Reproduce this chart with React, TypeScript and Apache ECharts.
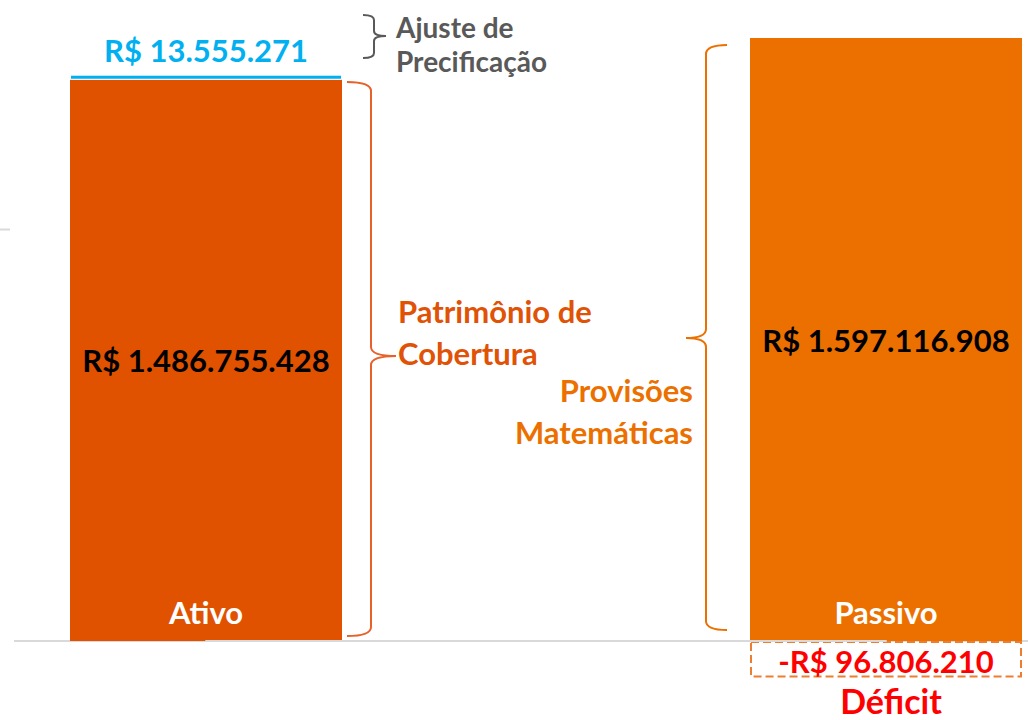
import React, { useEffect, useRef } from "react";
import * as echarts from "echarts";

const categories = ["Ativo", "Passivo"];
const baseValues = [1486755428, 1597116908];
const ajusteValues: (number | null)[] = [13555271, null];
const deficitValues: (number | null)[] = [null, -96806210];
const barColors = ["#E05200", "#EC7000"];

const FONT = "Lato";

const fmt = (v: number) =>
  (v < 0 ? "-" : "") +
  "R$ " +
  Math.abs(v)
    .toString()
    .replace(/\B(?=(\d{3})+(?!\d))/g, ".");

let registered = false;
function registerBrace() {
  if (registered) return;
  registered = true;
  const Brace = (echarts.graphic as any).extendShape({
    type: "brace",
    shape: { xe: 0, xs: 0, xt: 0, y1: 0, ym: 0, y2: 0, r: 6 },
    buildPath(ctx: any, s: any) {
      ctx.moveTo(s.xe, s.y1);
      ctx.quadraticCurveTo(s.xs, s.y1, s.xs, s.y1 + s.r);
      ctx.lineTo(s.xs, s.ym - s.r);
      ctx.quadraticCurveTo(s.xs, s.ym, s.xt, s.ym);
      ctx.moveTo(s.xt, s.ym);
      ctx.quadraticCurveTo(s.xs, s.ym, s.xs, s.ym + s.r);
      ctx.lineTo(s.xs, s.y2 - s.r);
      ctx.quadraticCurveTo(s.xs, s.y2, s.xe, s.y2);
    },
  });
  echarts.graphic.registerShape("brace", Brace);
}

export default function App() {
  const ref = useRef<HTMLDivElement>(null);

  useEffect(() => {
    if (!ref.current) return;
    registerBrace();
    const chart = echarts.init(ref.current, undefined, { renderer: "svg" });

    const labelBase = {
      fontFamily: FONT,
      fontWeight: "bold" as const,
      fontSize: 31,
    };

    chart.setOption({
      animation: false,
      grid: { left: 206, right: 142, top: 37, bottom: 41.25 },
      xAxis: {
        type: "category",
        data: categories,
        boundaryGap: false,
        z: 10,
        axisLine: { show: true, onZero: true, lineStyle: { color: "#D9D9D9", width: 2 } },
        axisTick: { show: false },
        axisLabel: { show: false },
      },
      yAxis: {
        type: "value",
        min: -100000000,
        max: 1600000000,
        show: false,
        splitLine: { show: false },
      },
      series: [
        {
          name: "Base",
          type: "bar",
          stack: "total",
          barWidth: 272,
          data: baseValues.map((v, i) => ({
            value: v,
            itemStyle: { color: barColors[i] },
          })),
          label: {
            show: true,
            position: "inside",
            color: "#000000",
            ...labelBase,
            formatter: (p: any) => fmt(p.value),
          },
        },
        {
          name: "Ajuste de Precificação",
          type: "bar",
          stack: "total",
          barWidth: 272,
          data: ajusteValues,
          itemStyle: { color: "#00B0F0", borderColor: "#FFFFFF", borderWidth: 1 },
          label: {
            show: true,
            position: "top",
            distance: 9,
            color: "#00B0F0",
            ...labelBase,
            formatter: (p: any) => fmt(p.value),
          },
        },
        {
          name: "Déficit",
          type: "bar",
          stack: "total",
          barWidth: 272,
          data: deficitValues,
          itemStyle: {
            color: "rgba(0,0,0,0)",
            borderColor: "#ED7D31",
            borderType: "dashed",
            borderWidth: 2,
          },
          label: {
            show: true,
            position: "inside",
            offset: [0, 2],
            color: "#FF0000",
            ...labelBase,
            formatter: (p: any) => fmt(p.value),
          },
        },
      ],
    });

    const zeroY = chart.convertToPixel({ yAxisIndex: 0 }, 0) as number;
    const catTexts = categories.map((c) => ({
      type: "text",
      x: chart.convertToPixel({ xAxisIndex: 0 }, c) as number,
      y: zeroY - 29,
      z: 20,
      style: {
        text: c,
        fill: "#FFFFFF",
        fontFamily: FONT,
        fontWeight: "bold",
        fontSize: 31,
        align: "center",
        verticalAlign: "middle",
      },
    }));

    chart.setOption({
      graphic: [
        {
          type: "line",
          shape: { x1: 14, y1: zeroY, x2: 1028, y2: zeroY },
          style: { stroke: "#D9D9D9", lineWidth: 2 },
          z: 0,
        },
        {
          type: "line",
          shape: { x1: 0, y1: 229.5, x2: 10, y2: 229.5 },
          style: { stroke: "#D9D9D9", lineWidth: 2 },
        },
        ...catTexts,
        {
          type: "brace",
          shape: { xe: 363, xs: 374, xt: 386, y1: 15, ym: 36, y2: 58, r: 5 },
          style: { stroke: "#595959", lineWidth: 2, fill: "none" },
        },
        {
          type: "brace",
          shape: { xe: 347, xs: 371, xt: 396, y1: 82, ym: 356, y2: 636, r: 9 },
          style: { stroke: "#E8602A", lineWidth: 2, fill: "none" },
        },
        {
          type: "brace",
          shape: { xe: 727, xs: 706, xt: 686, y1: 45, ym: 338, y2: 630, r: 9 },
          style: { stroke: "#EC7000", lineWidth: 2, fill: "none" },
        },
        {
          type: "text",
          x: 396,
          y: 44,
          style: {
            text: "Ajuste de\nPrecificação",
            fill: "#595959",
            fontFamily: FONT,
            fontWeight: "bold",
            fontSize: 28,
            lineHeight: 34,
            align: "left",
            verticalAlign: "middle",
          },
        },
        {
          type: "text",
          x: 398,
          y: 332,
          style: {
            text: "Patrimônio de\nCobertura",
            fill: "#E05206",
            fontFamily: FONT,
            fontWeight: "bold",
            fontSize: 31,
            lineHeight: 42,
            align: "left",
            verticalAlign: "middle",
          },
        },
        {
          type: "text",
          x: 693,
          y: 411,
          style: {
            text: "Provisões\nMatemáticas",
            fill: "#EC7000",
            fontFamily: FONT,
            fontWeight: "bold",
            fontSize: 31,
            lineHeight: 42,
            align: "right",
            verticalAlign: "middle",
          },
        },
        {
          type: "text",
          x: 891,
          y: 700,
          style: {
            text: "Déficit",
            fill: "#FF0000",
            fontFamily: FONT,
            fontWeight: "bold",
            fontSize: 34,
            align: "center",
            verticalAlign: "middle",
          },
        },
      ],
    });

    return () => chart.dispose();
  }, []);

  return (
    <div
      ref={ref}
      style={{ position: "absolute", left: 0, top: 0, width: 1028, height: 720, background: "#FFFFFF" }}
    />
  );
}
